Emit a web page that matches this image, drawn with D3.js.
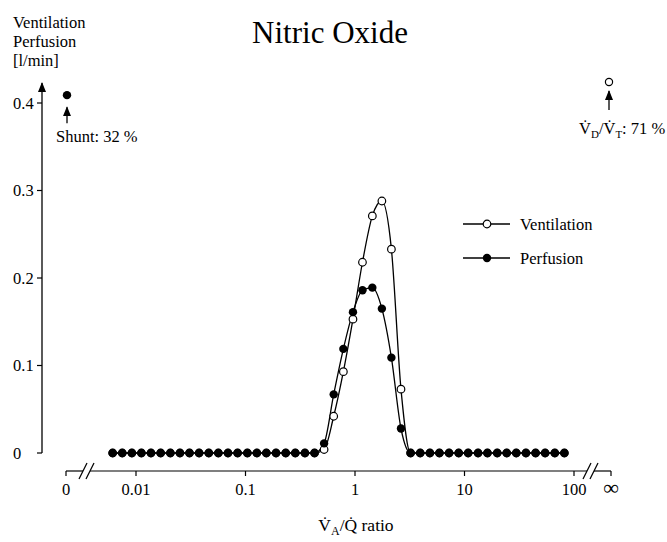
<!DOCTYPE html>
<html>
<head>
<meta charset="utf-8">
<script src="https://cdn.jsdelivr.net/npm/d3@7"></script>
<style>
    body { margin: 0; background: #fff; }
    svg text { font-family: "Liberation Serif", "Times New Roman", serif; fill: #000; }
</style>
</head>
<body>
<div id="chart"></div>
<script>
// VA/Q ratio of each compartment (log spaced)
var vaqRatio = [0.00612, 0.00749, 0.00917, 0.0112, 0.0137, 0.0168, 0.0206, 0.0252,
    0.0308, 0.0377, 0.0462, 0.0565, 0.0692, 0.0847, 0.104, 0.127,
    0.155, 0.190, 0.233, 0.285, 0.349, 0.427, 0.522, 0.639,
    0.783, 0.958, 1.17, 1.44, 1.76, 2.15, 2.63, 3.22,
    3.94, 4.83, 5.90, 7.23, 8.85, 10.8, 13.3, 16.2,
    19.9, 24.3, 29.7, 36.4, 44.6, 54.5, 66.8, 81.7];

// l/min per compartment
var ventilation = [0, 0, 0, 0, 0, 0, 0, 0, 0, 0, 0, 0, 0, 0, 0, 0,
    0, 0, 0, 0, 0, 0, 0.004, 0.042, 0.093, 0.153, 0.218, 0.271, 0.288, 0.233, 0.073, 0,
    0, 0, 0, 0, 0, 0, 0, 0, 0, 0, 0, 0, 0, 0, 0, 0];
var perfusion = [0, 0, 0, 0, 0, 0, 0, 0, 0, 0, 0, 0, 0, 0, 0, 0,
    0, 0, 0, 0, 0, 0, 0.011, 0.067, 0.119, 0.161, 0.186, 0.189, 0.165, 0.109, 0.028, 0,
    0, 0, 0, 0, 0, 0, 0, 0, 0, 0, 0, 0, 0, 0, 0, 0];

var shuntValue = 0.409;      // perfusion at VA/Q = 0
var deadSpaceValue = 0.424;  // ventilation at VA/Q = infinity

var yTicks = [0, 0.1, 0.2, 0.3, 0.4];
var yTickLabels = ["0", "0.1", "0.2", "0.3", "0.4"];
var xTicks = [0.01, 0.1, 1, 10, 100];
var xTickLabels = ["0.01", "0.1", "1", "10", "100"];
var seriesNames = ["Ventilation", "Perfusion"];

var width = 667, height = 542;
var fs = 16.5;

var svg = d3.select("#chart").append("svg")
    .attr("width", width)
    .attr("height", height)
    .attr("font-family", "'Liberation Serif', 'Times New Roman', serif");

// scales
var x = d3.scaleLog().domain([0.01, 100]).range([136, 574]);
var y = d3.scaleLinear().domain([0, 0.4]).range([453, 103]);
var xZero = x(0.01) - 70;   // position of "0" left of the break
var xInf = x(100) + 37;     // position of "infinity" right of the break
var axisY = 471;
var axisX = 42;

// arrow head
svg.append("defs").append("marker")
    .attr("id", "arrow")
    .attr("viewBox", "0 0 10 10")
    .attr("refX", 9).attr("refY", 5)
    .attr("markerWidth", 10).attr("markerHeight", 10)
    .attr("markerUnits", "userSpaceOnUse")
    .attr("orient", "auto")
    .append("path")
    .attr("d", "M0,1 L10,5 L0,9 Z")
    .attr("fill", "#000");

// title
svg.append("text")
    .attr("x", 330).attr("y", 43)
    .attr("text-anchor", "middle")
    .style("font-size", "31px")
    .text("Nitric Oxide");

// y axis title
svg.append("text")
    .attr("x", 13).attr("y", 28)
    .style("font-size", fs + "px")
    .selectAll("tspan")
    .data(["Ventilation", "Perfusion", "[l/min]"])
    .enter().append("tspan")
    .attr("x", 13)
    .attr("dy", function (d, i) { return i === 0 ? 0 : 19; })
    .text(function (d) { return d; });

// Y axis
svg.append("line")
    .attr("x1", axisX).attr("x2", axisX)
    .attr("y1", y(0)).attr("y2", 83)
    .attr("stroke", "#000").attr("stroke-width", 1.3)
    .attr("marker-end", "url(#arrow)");

var yt = svg.append("g").selectAll("g")
    .data(yTicks)
    .enter().append("g");
yt.append("line")
    .attr("x1", axisX - 5).attr("x2", axisX)
    .attr("y1", function (d) { return y(d); })
    .attr("y2", function (d) { return y(d); })
    .attr("stroke", "#000").attr("stroke-width", 1.2);
yt.append("text")
    .attr("x", 13)
    .attr("y", function (d) { return y(d); })
    .attr("dy", "0.35em")
    .style("font-size", fs + "px")
    .text(function (d, i) { return yTickLabels[i]; });

// X axis with breaks
var ax = svg.append("g")
    .attr("stroke", "#000").attr("stroke-width", 1.2).attr("fill", "none");
var segs = [[xZero, xZero + 17], [xZero + 24, x(100) + 13], [x(100) + 20, xInf]];
segs.forEach(function (s) {
    ax.append("line")
        .attr("x1", s[0]).attr("x2", s[1])
        .attr("y1", axisY).attr("y2", axisY);
});
[xZero + 17, xZero + 24, x(100) + 13, x(100) + 20].forEach(function (c) {
    ax.append("line")
        .attr("x1", c - 4).attr("x2", c + 4)
        .attr("y1", axisY + 8).attr("y2", axisY - 8);
});

var tickPos = [xZero].concat(xTicks.map(function (d) { return x(d); })).concat([xInf]);
var tickText = ["0"].concat(xTickLabels).concat(["\u221E"]);
tickPos.forEach(function (p, i) {
    ax.append("line")
        .attr("x1", p).attr("x2", p)
        .attr("y1", axisY).attr("y2", axisY + 5);
    svg.append("text")
        .attr("x", p).attr("y", axisY + 24)
        .attr("text-anchor", "middle")
        .style("font-size", (i === tickText.length - 1 ? 22 : fs) + "px")
        .text(tickText[i]);
});

// x axis label
var xl = svg.append("text")
    .attr("x", 356).attr("y", 531)
    .attr("text-anchor", "middle")
    .style("font-size", "17.5px");
xl.append("tspan").text("V\u0307");
xl.append("tspan").attr("dy", 4).style("font-size", "12px").text("A");
xl.append("tspan").attr("dy", -4).text("/Q\u0307 ratio");

// lines
var line = d3.line()
    .x(function (d) { return x(d[0]); })
    .y(function (d) { return y(d[1]); })
    .curve(d3.curveMonotoneX);

var ventData = vaqRatio.map(function (v, i) { return [v, ventilation[i]]; });
var perfData = vaqRatio.map(function (v, i) { return [v, perfusion[i]]; });

svg.append("path")
    .datum(ventData)
    .attr("d", line)
    .attr("fill", "none").attr("stroke", "#000").attr("stroke-width", 1.3);
svg.append("path")
    .datum(perfData)
    .attr("d", line)
    .attr("fill", "none").attr("stroke", "#000").attr("stroke-width", 1.3);

// points: open ventilation circles first, filled perfusion dots over them
svg.append("g").selectAll("circle")
    .data(ventData)
    .enter().append("circle")
    .attr("cx", function (d) { return x(d[0]); })
    .attr("cy", function (d) { return y(d[1]); })
    .attr("r", 3.8)
    .attr("fill", "#fff").attr("stroke", "#000").attr("stroke-width", 1.2);
svg.append("g").selectAll("circle")
    .data(perfData)
    .enter().append("circle")
    .attr("cx", function (d) { return x(d[0]); })
    .attr("cy", function (d) { return y(d[1]); })
    .attr("r", 4.2)
    .attr("fill", "#000");

// shunt
svg.append("circle")
    .attr("cx", xZero + 1).attr("cy", y(shuntValue))
    .attr("r", 4.2).attr("fill", "#000");
svg.append("line")
    .attr("x1", xZero + 1).attr("x2", xZero + 1)
    .attr("y1", y(shuntValue) + 28).attr("y2", y(shuntValue) + 12)
    .attr("stroke", "#000").attr("stroke-width", 1.3)
    .attr("marker-end", "url(#arrow)");
svg.append("text")
    .attr("x", xZero - 10).attr("y", y(shuntValue) + 47)
    .style("font-size", fs + "px")
    .text("Shunt: 32 %");

// dead space
svg.append("circle")
    .attr("cx", xInf - 2).attr("cy", y(deadSpaceValue))
    .attr("r", 3.6).attr("fill", "#fff")
    .attr("stroke", "#000").attr("stroke-width", 1.2);
svg.append("line")
    .attr("x1", xInf - 2).attr("x2", xInf - 2)
    .attr("y1", y(deadSpaceValue) + 28).attr("y2", y(deadSpaceValue) + 9)
    .attr("stroke", "#000").attr("stroke-width", 1.3)
    .attr("marker-end", "url(#arrow)");
var ds = svg.append("text")
    .attr("x", xInf - 32).attr("y", y(deadSpaceValue) + 52)
    .style("font-size", fs + "px");
ds.append("tspan").text("V\u0307");
ds.append("tspan").attr("dy", 4).style("font-size", "11px").text("D");
ds.append("tspan").attr("dy", -4).text("/V\u0307");
ds.append("tspan").attr("dy", 4).style("font-size", "11px").text("T");
ds.append("tspan").attr("dy", -4).text(": 71 %");

// legend
var lg = svg.append("g").selectAll("g")
    .data(seriesNames)
    .enter().append("g")
    .attr("transform", function (d, i) { return "translate(463," + (224 + i * 34) + ")"; });
lg.append("line")
    .attr("x1", 0).attr("x2", 47)
    .attr("stroke", "#000").attr("stroke-width", 1.3);
lg.append("circle")
    .attr("cx", 24).attr("r", function (d, i) { return i === 0 ? 3.8 : 4.2; })
    .attr("fill", function (d, i) { return i === 0 ? "#fff" : "#000"; })
    .attr("stroke", "#000").attr("stroke-width", function (d, i) { return i === 0 ? 1.2 : 0; });
lg.append("text")
    .attr("x", 57).attr("dy", "0.35em")
    .style("font-size", fs + "px")
    .text(function (d) { return d; });
</script>
</body>
</html>
